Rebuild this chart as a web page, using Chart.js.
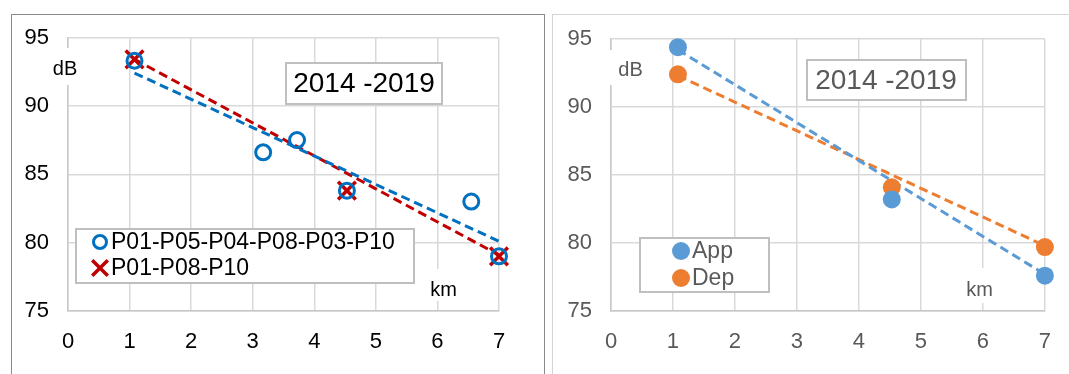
<!DOCTYPE html>
<html>
<head>
<meta charset="UTF-8">
<script src="https://cdn.jsdelivr.net/npm/chart.js"></script>
<style>
  body { margin: 0; background: #fff; width: 1069px; height: 374px; overflow: hidden; position: relative; }
  .frame { position: absolute; box-sizing: border-box; }
  #frameL { left: 11px; top: 14px; width: 534px; height: 420px; border: 1.5px solid #8a8a8a; }
  #frameR { left: 552px; top: 14px; width: 600px; height: 420px; border: 1.5px solid #d4d4d4; }
  canvas { position: absolute; top: 0; }
  #left { left: 0; }
  #right { left: 544px; }
</style>
</head>
<body>
<div class="frame" id="frameL"></div>
<div class="frame" id="frameR"></div>
<canvas id="left" width="544" height="374"></canvas>
<canvas id="right" width="525" height="374"></canvas>
<script>
// --- data ---
const kmTicks = [0, 1, 2, 3, 4, 5, 6, 7];
const dbTicks = [75, 80, 85, 90, 95];

// left panel
const kmAll = [1.08, 3.17, 3.72, 4.53, 6.55, 7.0];
const dbAll = [93.3, 86.6, 87.5, 83.8, 83.0, 79.0];
const kmSub = [1.08, 4.53, 7.0];
const dbSub = [93.4, 83.8, 79.0];
const trendKm = [1.08, 7.0];
const trendAllDb = [92.4, 80.1];
const trendSubDb = [93.4, 79.1];

// right panel
const kmAD = [1.08, 4.53, 7.0];
const dbApp = [94.4, 83.2, 77.6];
const dbDep = [92.4, 84.1, 79.7];
const trendAppDb = [94.2, 77.7];
const trendDepDb = [92.3, 79.8];

const pts = (xs, ys) => xs.map((x, i) => ({ x: x, y: ys[i] }));

Chart.defaults.font.family = '"Liberation Sans", Arial, sans-serif';
Chart.defaults.animation = false;

// text boxes + legend drawn on top of the plot
const boxes = {
  id: 'boxes',
  afterDraw(chart, args, o) {
    const ctx = chart.ctx;
    ctx.save();
    for (const b of o.items) {
      const [x, y, w, h] = b.rect;
      ctx.fillStyle = '#fff';
      ctx.fillRect(x, y, w, h);
      if (b.border) {
        ctx.strokeStyle = b.border;
        ctx.lineWidth = 2;
        ctx.strokeRect(x, y, w, h);
      }
      ctx.fillStyle = o.color;
      ctx.font = b.size + 'px "Liberation Sans", Arial, sans-serif';
      ctx.textAlign = 'center';
      ctx.textBaseline = 'middle';
      ctx.fillText(b.text, b.tx, b.ty);
    }
    const lg = o.legend;
    const [x, y, w, h] = lg.rect;
    ctx.fillStyle = '#fff';
    ctx.fillRect(x, y, w, h);
    ctx.strokeStyle = '#bfbfbf';
    ctx.lineWidth = 2;
    ctx.strokeRect(x, y, w, h);
    chart.data.datasets.filter(d => d.inLegend).forEach((d, i) => {
      const yy = lg.rows[i];
      ctx.strokeStyle = d.borderColor;
      ctx.fillStyle = d.backgroundColor;
      ctx.lineWidth = d.borderWidth;
      Chart.helpers.drawPoint(ctx, {
        pointStyle: d.pointStyle, radius: d.legendRadius, rotation: 0, borderWidth: d.borderWidth
      }, lg.mx, yy);
      ctx.fillStyle = o.color;
      ctx.font = '23px "Liberation Sans", Arial, sans-serif';
      ctx.textAlign = 'left';
      ctx.textBaseline = 'middle';
      ctx.fillText(d.label, lg.tx, yy + 1);
    });
    ctx.restore();
  }
};

function scales(textColor, yWidth) {
  const tickFont = { size: 22 };
  return {
    x: {
      type: 'linear', min: 0, max: 7,
      afterBuildTicks: s => { s.ticks = kmTicks.map(v => ({ value: v })); },
      afterFit: s => { s.height = 63; },
      ticks: { font: tickFont, color: textColor, padding: 18 },
      grid: { color: '#d9d9d9', lineWidth: 1.5, drawTicks: false },
      border: { color: '#c8c8c8', width: 1.5 }
    },
    y: {
      type: 'linear', min: 75, max: 95,
      afterBuildTicks: s => { s.ticks = dbTicks.map(v => ({ value: v })); },
      afterFit: s => { s.width = yWidth; },
      ticks: { font: tickFont, color: textColor, padding: 19 },
      grid: { color: '#d9d9d9', lineWidth: 1.5, drawTicks: false },
      border: { color: '#c8c8c8', width: 1.5 }
    }
  };
}

function trend(xs, ys, color) {
  return {
    type: 'line', data: pts(xs, ys), borderColor: color, borderWidth: 3,
    borderDash: [9, 5], pointRadius: 0, fill: false, order: 2, clip: false
  };
}

new Chart(document.getElementById('left'), {
  type: 'scatter',
  data: {
    datasets: [
      trend(trendKm, trendAllDb, '#0070C0'),
      trend(trendKm, trendSubDb, '#C00000'),
      {
        label: 'P01-P05-P04-P08-P03-P10', data: pts(kmAll, dbAll), inLegend: true,
        pointStyle: 'circle', pointRadius: 7.5, legendRadius: 6.5, borderWidth: 3,
        borderColor: '#0070C0', backgroundColor: 'rgba(0,0,0,0)', order: 1, clip: false
      },
      {
        label: 'P01-P08-P10', data: pts(kmSub, dbSub), inLegend: true,
        pointStyle: 'crossRot', pointRadius: 12.5, legendRadius: 11, borderWidth: 3.5,
        borderColor: '#C00000', backgroundColor: '#C00000', order: 1, clip: false
      }
    ]
  },
  options: {
    responsive: false,
    layout: { padding: { left: 0, right: 45, top: 37.5, bottom: 0 } },
    plugins: {
      legend: { display: false }, tooltip: { enabled: false },
      boxes: {
        color: '#000',
        items: [
          { rect: [286, 63, 156, 41], border: '#bfbfbf', text: '2014 -2019', size: 28, tx: 364, ty: 84 },
          { rect: [47, 48, 36, 37], text: 'dB', size: 20, tx: 65, ty: 69 },
          { rect: [425, 269, 37, 32], text: 'km', size: 20, tx: 443.5, ty: 290 }
        ],
        legend: { rect: [76, 229, 338, 54], rows: [242, 268], mx: 100, tx: 111 }
      }
    },
    scales: scales('#000', 68)
  },
  plugins: [boxes]
});

new Chart(document.getElementById('right'), {
  type: 'scatter',
  data: {
    datasets: [
      trend(trendKm, trendAppDb, '#5B9BD5'),
      trend(trendKm, trendDepDb, '#ED7D31'),
      {
        label: 'App', data: pts(kmAD, dbApp), inLegend: true,
        pointStyle: 'circle', pointRadius: 9, legendRadius: 9, borderWidth: 0,
        borderColor: '#5B9BD5', backgroundColor: '#5B9BD5', order: 1, clip: false
      },
      {
        label: 'Dep', data: pts(kmAD, dbDep), inLegend: true,
        pointStyle: 'circle', pointRadius: 9, legendRadius: 9, borderWidth: 0,
        borderColor: '#ED7D31', backgroundColor: '#ED7D31', order: 1, clip: false
      }
    ]
  },
  options: {
    responsive: false,
    layout: { padding: { left: 0, right: 20, top: 39, bottom: 0 } },
    plugins: {
      legend: { display: false }, tooltip: { enabled: false },
      boxes: {
        color: '#595959',
        items: [
          { rect: [263, 60, 159, 40], border: '#bfbfbf', text: '2014 -2019', size: 28, tx: 342, ty: 81 },
          { rect: [57, 50, 48, 35], text: 'dB', size: 20, tx: 86.5, ty: 70 },
          { rect: [416, 268, 40, 35], text: 'km', size: 20, tx: 435.5, ty: 290 }
        ],
        legend: { rect: [96, 238, 129, 54], rows: [251, 278], mx: 137, tx: 148 }
      }
    },
    scales: scales('#595959', 67)
  },
  plugins: [boxes]
});
</script>
</body>
</html>
